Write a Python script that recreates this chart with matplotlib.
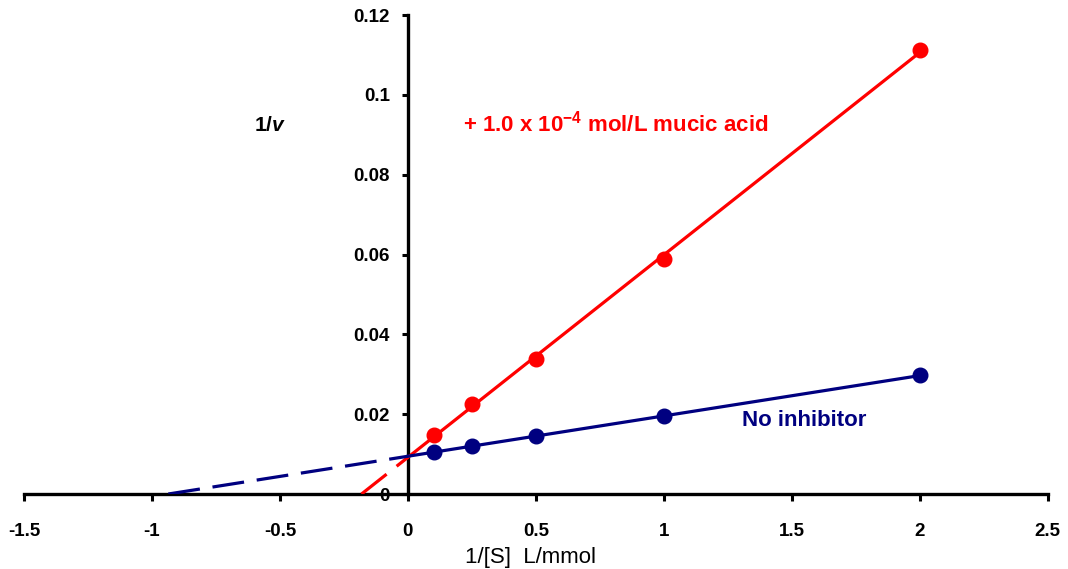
import numpy as np
import matplotlib
matplotlib.use('Agg')
import matplotlib.pyplot as plt

# Lineweaver-Burk data
inv_s = [0.1, 0.25, 0.5, 1.0, 2.0]
inv_v_inhib = [0.0148, 0.0225, 0.0338, 0.0589, 0.1112]
inv_v_none = [0.0105, 0.0120, 0.0145, 0.0195, 0.0297]

x_ticks = [-1.5, -1, -0.5, 0, 0.5, 1, 1.5, 2, 2.5]
y_ticks = [0, 0.02, 0.04, 0.06, 0.08, 0.1, 0.12]

plt.rcParams['font.family'] = ['Liberation Sans', 'DejaVu Sans']
plt.rcParams['mathtext.fontset'] = 'custom'
plt.rcParams['mathtext.rm'] = 'Liberation Sans:bold'
plt.rcParams['mathtext.it'] = 'Liberation Sans:italic:bold'
plt.rcParams['mathtext.bf'] = 'Liberation Sans:bold'

fig = plt.figure(figsize=(10.68, 5.69), dpi=100)
ax = fig.add_axes([0.0225, 0.1318, 0.9585, 0.8418])

red = '#FF0000'
navy = '#000080'

for ys, col in [(inv_v_inhib, red), (inv_v_none, navy)]:
    slope, icpt = np.polyfit(inv_s, ys, 1)
    x0 = -icpt / slope
    # extrapolated part back to the x-intercept
    ax.plot([x0, 0], [0, icpt], color=col, lw=2.3, dashes=(10, 4), zorder=3)
    ax.plot([0, inv_s[-1]], [icpt, slope * inv_s[-1] + icpt], color=col, lw=2.3, zorder=3)
    ax.plot(inv_s, ys, 'o', color=col, ms=10.5, zorder=4)

ax.set_xlim(-1.5, 2.5)
ax.set_ylim(0, 0.12)
ax.set_xticks(x_ticks)
ax.set_xticklabels(['-1.5', '-1', '-0.5', '0', '0.5', '1', '1.5', '2', '2.5'])
ax.set_yticks(y_ticks)
ax.set_yticklabels(['0', '0.02', '0.04', '0.06', '0.08', '0.1', '0.12'])

ax.spines['left'].set_position(('data', 0))
ax.spines['bottom'].set_position(('data', 0))
ax.spines['top'].set_visible(False)
ax.spines['right'].set_visible(False)
ax.spines['left'].set_linewidth(2.4)
ax.spines['bottom'].set_linewidth(2.4)
ax.tick_params(direction='out', length=5, width=2.2, labelsize=13.5, pad=16)
ax.tick_params(axis='y', length=4, pad=9)
for lab in ax.get_xticklabels() + ax.get_yticklabels():
    lab.set_fontweight('bold')

ax.text(-0.54, 0.0924, r'1/$v$', fontsize=15, fontweight='bold', ha='center', va='center')
ax.text(0.215, 0.0927, r'+ 1.0 x 10$^{-4}$ mol/L mucic acid', color=red,
        fontsize=16, fontweight='bold', ha='left', va='center')
ax.text(1.305, 0.0183, 'No inhibitor', color=navy, fontsize=16,
        fontweight='bold', ha='left', va='center')

fig.text(0.497, 0.021, '1/[S]  L/mmol', fontsize=16, ha='center', va='center')

fig.savefig('out.png', dpi=100)
